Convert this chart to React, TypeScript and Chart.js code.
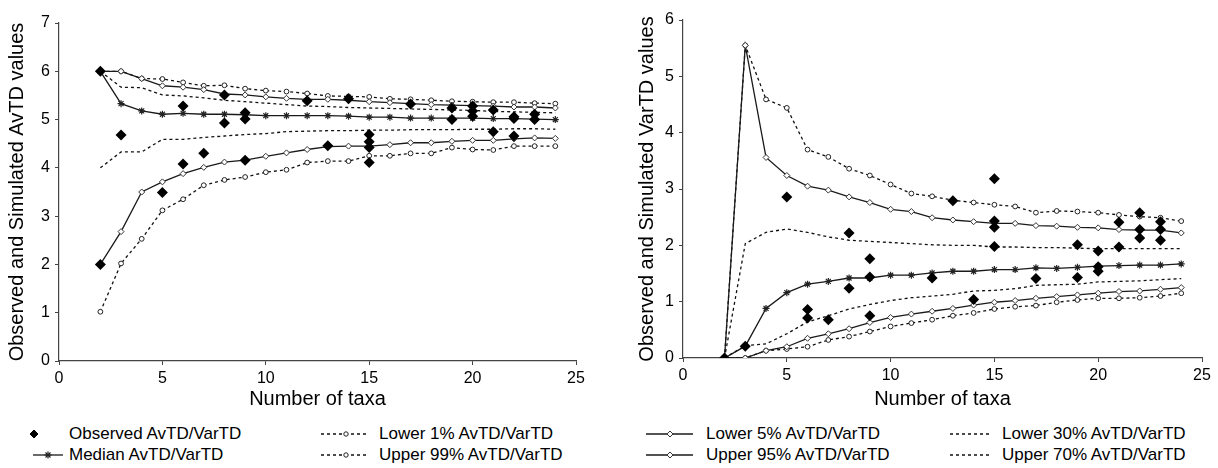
import React, { useEffect, useRef } from "react";
import { Chart, registerables } from "chart.js";
Chart.register(...registerables);

// ---------- data ----------
const taxa = [2, 3, 4, 5, 6, 7, 8, 9, 10, 11, 12, 13, 14, 15, 16, 17, 18, 19, 20, 21, 22, 23, 24];

// AvTD panel (left)
const avUpper99 = [6.0, 6.0, 5.85, 5.84, 5.77, 5.70, 5.71, 5.64, 5.60, 5.58, 5.54, 5.49, 5.48, 5.47, 5.43, 5.42, 5.40, 5.38, 5.37, 5.36, 5.36, 5.34, 5.33];
const avUpper95 = [6.0, 6.0, 5.85, 5.70, 5.67, 5.62, 5.53, 5.51, 5.47, 5.44, 5.42, 5.42, 5.40, 5.37, 5.35, 5.33, 5.31, 5.30, 5.29, 5.28, 5.26, 5.26, 5.24];
const avUpper70 = [6.0, 5.67, 5.66, 5.51, 5.49, 5.45, 5.40, 5.37, 5.34, 5.31, 5.28, 5.27, 5.25, 5.24, 5.23, 5.22, 5.21, 5.20, 5.19, 5.17, 5.16, 5.15, 5.14];
const avMedian = [6.0, 5.33, 5.18, 5.11, 5.13, 5.11, 5.11, 5.10, 5.08, 5.08, 5.08, 5.08, 5.07, 5.05, 5.05, 5.03, 5.03, 5.03, 5.03, 5.02, 5.02, 5.01, 5.00];
const avLower30 = [4.0, 4.33, 4.33, 4.59, 4.59, 4.63, 4.66, 4.69, 4.71, 4.75, 4.76, 4.77, 4.77, 4.78, 4.78, 4.79, 4.79, 4.79, 4.80, 4.80, 4.81, 4.81, 4.80];
const avLower5 = [2.0, 2.68, 3.50, 3.71, 3.88, 4.01, 4.12, 4.16, 4.24, 4.31, 4.38, 4.44, 4.45, 4.45, 4.48, 4.52, 4.52, 4.55, 4.57, 4.57, 4.60, 4.62, 4.61];
const avLower1 = [1.02, 2.02, 2.53, 3.12, 3.35, 3.64, 3.75, 3.81, 3.91, 3.96, 4.11, 4.14, 4.14, 4.25, 4.25, 4.30, 4.30, 4.42, 4.38, 4.37, 4.45, 4.45, 4.45];
const avObsX = [2, 2, 3, 5, 6, 6, 7, 8, 8, 9, 9, 9, 12, 13, 14, 15, 15, 15, 15, 17, 19, 19, 20, 20, 20, 21, 21, 22, 22, 22, 23, 23];
const avObsY = [6.0, 2.0, 4.68, 3.49, 4.08, 5.28, 4.30, 5.51, 4.93, 5.14, 5.01, 4.16, 5.39, 4.46, 5.43, 4.69, 4.54, 4.42, 4.11, 5.32, 5.24, 5.00, 5.28, 5.18, 5.07, 5.20, 4.75, 5.06, 5.02, 4.66, 5.11, 5.00];

// VarTD panel (right)
const varUpper99 = [0, 5.55, 4.59, 4.44, 3.70, 3.57, 3.36, 3.24, 3.08, 2.92, 2.87, 2.80, 2.76, 2.72, 2.69, 2.58, 2.61, 2.60, 2.58, 2.54, 2.51, 2.49, 2.43];
const varUpper95 = [0, 5.55, 3.56, 3.24, 3.05, 2.98, 2.86, 2.76, 2.64, 2.60, 2.49, 2.45, 2.42, 2.39, 2.39, 2.35, 2.34, 2.32, 2.31, 2.28, 2.27, 2.27, 2.22];
const varUpper70 = [0, 2.03, 2.23, 2.29, 2.23, 2.15, 2.09, 2.07, 2.05, 2.03, 2.01, 2.00, 2.00, 1.97, 1.97, 1.96, 1.96, 1.95, 1.94, 1.94, 1.94, 1.94, 1.94];
const varMedian = [0, 0.21, 0.88, 1.16, 1.31, 1.36, 1.42, 1.42, 1.47, 1.47, 1.51, 1.54, 1.54, 1.57, 1.57, 1.60, 1.59, 1.61, 1.63, 1.64, 1.65, 1.65, 1.67];
const varLower30 = [0, 0.22, 0.25, 0.43, 0.64, 0.75, 0.87, 0.95, 1.02, 1.07, 1.10, 1.13, 1.19, 1.20, 1.23, 1.29, 1.30, 1.31, 1.35, 1.36, 1.37, 1.39, 1.41];
const varLower5 = [0, 0, 0.13, 0.20, 0.35, 0.43, 0.52, 0.63, 0.72, 0.78, 0.83, 0.88, 0.94, 0.99, 1.02, 1.06, 1.09, 1.12, 1.15, 1.18, 1.19, 1.22, 1.25];
const varLower1 = [0, 0, 0.13, 0.16, 0.20, 0.32, 0.38, 0.47, 0.56, 0.62, 0.68, 0.75, 0.80, 0.87, 0.91, 0.93, 0.99, 1.03, 1.06, 1.06, 1.07, 1.10, 1.15];
const varObsX = [2, 3, 5, 6, 6, 7, 8, 8, 9, 9, 9, 12, 13, 14, 15, 15, 15, 15, 17, 19, 19, 20, 20, 20, 21, 21, 22, 22, 22, 23, 23, 23];
const varObsY = [0, 0.21, 2.86, 0.86, 0.71, 0.68, 2.22, 1.24, 1.76, 1.44, 0.75, 1.42, 2.79, 1.04, 3.18, 2.43, 2.32, 1.98, 1.41, 2.01, 1.43, 1.90, 1.62, 1.54, 2.41, 1.97, 2.58, 2.28, 2.13, 2.42, 2.28, 2.09];

const xTitle = "Number of taxa";
const avYTitle = "Observed and Simulated AvTD values";
const varYTitle = "Observed and Simulated VarTD values";

const legendLabels = [
  "Observed AvTD/VarTD",
  "Median AvTD/VarTD",
  "Lower 1% AvTD/VarTD",
  "Upper 99% AvTD/VarTD",
  "Lower 5% AvTD/VarTD",
  "Upper 95% AvTD/VarTD",
  "Lower 30% AvTD/VarTD",
  "Upper 70% AvTD/VarTD",
];

// ---------- helpers ----------
const FONT = '"Liberation Sans", Arial, Helvetica, sans-serif';
const LINE = "#1a1a1a";

const pts = (ys: number[]) => ys.map((y, i) => ({ x: taxa[i], y }));

function buildDatasets(s: {
  u99: number[]; u95: number[]; u70: number[]; med: number[]; l30: number[]; l5: number[]; l1: number[];
  ox: number[]; oy: number[];
}) {
  const dotted = (label: string, ys: number[], marker: boolean) => ({
    label,
    data: pts(ys),
    showLine: true,
    borderColor: "#111",
    borderWidth: 1.3,
    borderDash: [3, 3],
    pointStyle: "circle",
    pointRadius: marker ? 2.4 : 0,
    pointBackgroundColor: "#fff",
    pointBorderColor: "#222",
    pointBorderWidth: 1,
    order: 2,
  });
  const solidDiamond = (label: string, ys: number[]) => ({
    label,
    data: pts(ys),
    showLine: true,
    borderColor: LINE,
    borderWidth: 1.3,
    pointStyle: "rectRot",
    pointRadius: 3,
    pointBackgroundColor: "#fff",
    pointBorderColor: "#333",
    pointBorderWidth: 1,
    order: 1,
  });
  return [
    {
      label: legendLabels[0],
      data: s.ox.map((x, i) => ({ x, y: s.oy[i] })),
      showLine: false,
      pointStyle: "rectRot",
      pointRadius: 5.5,
      pointBackgroundColor: "#000",
      pointBorderColor: "#000",
      pointBorderWidth: 0,
      order: 0,
    },
    {
      label: legendLabels[1],
      data: pts(s.med),
      showLine: true,
      borderColor: LINE,
      borderWidth: 1.3,
      pointStyle: "star",
      pointRadius: 3.5,
      pointBorderColor: "#222",
      pointBorderWidth: 1.2,
      order: 1,
    },
    dotted(legendLabels[2], s.l1, true),
    dotted(legendLabels[3], s.u99, true),
    solidDiamond(legendLabels[4], s.l5),
    solidDiamond(legendLabels[5], s.u95),
    dotted(legendLabels[6], s.l30, false),
    dotted(legendLabels[7], s.u70, false),
  ];
}

function buildConfig(datasets: any[], yMax: number, yTitle: string, yWidth: number, xHeight: number, pad: any, titlePadTop: number) {
  return {
    type: "scatter",
    data: { datasets },
    options: {
      animation: false,
      responsive: false,
      maintainAspectRatio: false,
      layout: { padding: pad },
      plugins: { legend: { display: false }, tooltip: { enabled: false } },
      scales: {
        x: {
          type: "linear",
          min: 0,
          max: 25,
          ticks: { stepSize: 5, color: "#000", font: { family: FONT, size: 16 }, padding: 4 },
          grid: { drawOnChartArea: false, drawTicks: true, tickLength: 4, color: "#444" },
          border: { color: "#444", width: 1.2 },
          title: { display: true, text: xTitle, color: "#000", font: { family: FONT, size: 20 }, padding: { top: 0, bottom: 9 } },
          afterFit: (sc: any) => { sc.height = xHeight; },
        },
        y: {
          type: "linear",
          min: 0,
          max: yMax,
          ticks: { stepSize: 1, color: "#000", font: { family: FONT, size: 16 }, padding: 5 },
          grid: { drawOnChartArea: false, drawTicks: true, tickLength: 4, color: "#444" },
          border: { color: "#444", width: 1.2 },
          title: { display: true, text: yTitle, color: "#000", font: { family: FONT, size: 20 }, padding: { top: titlePadTop, bottom: 0 } },
          afterFit: (sc: any) => { sc.width = yWidth; },
        },
      },
    },
  };
}

// ---------- legend ----------
const legendRowY = [434, 455];
const legendTextX = [69, 379, 706, 1002];

function LegendSymbols() {
  const y1 = legendRowY[0] - 420;
  const y2 = legendRowY[1] - 420;
  const dia = (cx: number, cy: number, r: number, fill: string, stroke: string) => (
    <polygon points={`${cx - r},${cy} ${cx},${cy - r} ${cx + r},${cy} ${cx},${cy + r}`} fill={fill} stroke={stroke} strokeWidth={1} />
  );
  const star = (cx: number, cy: number, r: number) => {
    const d = r * Math.SQRT1_2;
    return (
      <g stroke="#222" strokeWidth={1.2}>
        <line x1={cx - d} y1={cy - d} x2={cx + d} y2={cy + d} />
        <line x1={cx - d} y1={cy + d} x2={cx + d} y2={cy - d} />
        <line x1={cx} y1={cy - r} x2={cx} y2={cy + r} />
        <line x1={cx - r} y1={cy} x2={cx + r} y2={cy} />
      </g>
    );
  };
  const dashLine = (x1: number, x2: number, y: number) => (
    <line x1={x1} y1={y} x2={x2} y2={y} stroke="#111" strokeWidth={1.3} strokeDasharray="3 3" />
  );
  const solidLine = (x1: number, x2: number, y: number) => (
    <line x1={x1} y1={y} x2={x2} y2={y} stroke={LINE} strokeWidth={1.3} />
  );
  const circ = (cx: number, y: number) => <circle cx={cx} cy={y} r={2.2} fill="#fff" stroke="#222" strokeWidth={1} />;
  return (
    <svg width={1218} height={48} style={{ position: "absolute", left: 0, top: 420 }}>
      {dia(34, y1, 4, "#000", "#000")}
      {solidLine(33, 63, y2)}
      {star(48, y2, 3.5)}
      {dashLine(321, 369, y1)}
      {circ(346, y1)}
      {dashLine(321, 369, y2)}
      {circ(346, y2)}
      {solidLine(646, 693, y1)}
      {dia(670, y1, 3, "#fff", "#333")}
      {solidLine(646, 693, y2)}
      {dia(670, y2, 3, "#fff", "#333")}
      {dashLine(950, 989, y1)}
      {dashLine(950, 989, y2)}
    </svg>
  );
}

export default function App() {
  const leftRef = useRef<HTMLCanvasElement | null>(null);
  const rightRef = useRef<HTMLCanvasElement | null>(null);

  useEffect(() => {
    document.body.style.margin = "0";
    Chart.defaults.font.family = FONT;
    Chart.defaults.color = "#000";
    const left = new Chart(
      leftRef.current as HTMLCanvasElement,
      buildConfig(
        buildDatasets({ u99: avUpper99, u95: avUpper95, u70: avUpper70, med: avMedian, l30: avLower30, l5: avLower5, l1: avLower1, ox: avObsX, oy: avObsY }),
        7, avYTitle, 59, 59, { left: 0, top: 23, right: 24, bottom: 0 }, 5
      ) as any
    );
    const right = new Chart(
      rightRef.current as HTMLCanvasElement,
      buildConfig(
        buildDatasets({ u99: varUpper99, u95: varUpper95, u70: varUpper70, med: varMedian, l30: varLower30, l5: varLower5, l1: varLower1, ox: varObsX, oy: varObsY }),
        6, varYTitle, 53, 62, { left: 0, top: 20, right: 16, bottom: 0 }, 5
      ) as any
    );
    return () => {
      left.destroy();
      right.destroy();
    };
  }, []);

  const textStyle = (x: number, y: number): React.CSSProperties => ({
    position: "absolute",
    left: x,
    top: y - 10,
    height: 20,
    lineHeight: "20px",
    fontFamily: FONT,
    fontSize: 17,
    color: "#000",
    whiteSpace: "nowrap",
  });

  return (
    <div style={{ position: "absolute", left: 0, top: 0, width: 1218, height: 468, background: "#fff", overflow: "hidden" }}>
      <canvas ref={leftRef} width={600} height={420} style={{ position: "absolute", left: 0, top: 0, width: 600, height: 420 }} />
      <canvas ref={rightRef} width={588} height={420} style={{ position: "absolute", left: 630, top: 0, width: 588, height: 420 }} />
      <LegendSymbols />
      {legendLabels.map((lab, i) => (
        <span key={lab} style={textStyle(legendTextX[Math.floor(i / 2)], legendRowY[i % 2])}>
          {lab}
        </span>
      ))}
    </div>
  );
}
